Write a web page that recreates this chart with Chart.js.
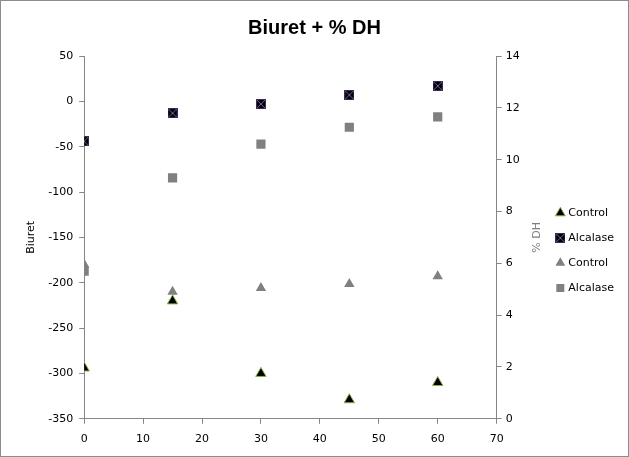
<!DOCTYPE html>
<html>
<head>
<meta charset="utf-8">
<script src="https://cdn.jsdelivr.net/npm/chart.js@4"></script>
<style>
  body { margin: 0; background: #fff; }
  #wrap { width: 629px; height: 457px; }
</style>
</head>
<body>
<div id="wrap"><canvas id="biuretChart" width="629" height="457"></canvas></div>
<script>
// time points (x)
const times = [0, 15, 30, 45, 60];

// Biuret (left axis)
const biuretControl = [-294, -220, -300, -329, -310];
const biuretAlcalase = [-44, -13, -3, 7, 17];

// % DH (right axis)
const dhControl = [5.95, 4.9, 5.05, 5.2, 5.5];
const dhAlcalase = [5.7, 9.3, 10.6, 11.25, 11.65];

const seriesNames = ['Control', 'Alcalase', 'Control', 'Alcalase'];

function toPoints(ys) {
  return times.map((t, i) => ({ x: t, y: ys[i] }));
}

// black square with purple X marker
function crossSquare() {
  const c = document.createElement('canvas');
  c.width = 10; c.height = 10;
  const g = c.getContext('2d');
  g.fillStyle = '#000';
  g.fillRect(0, 0, 10, 10);
  g.strokeStyle = '#7a5ea0';
  g.lineWidth = 1;
  g.beginPath();
  g.moveTo(0.5, 0.5); g.lineTo(9.5, 9.5);
  g.moveTo(9.5, 0.5); g.lineTo(0.5, 9.5);
  g.stroke();
  g.strokeStyle = '#3a2a55';
  g.strokeRect(0.5, 0.5, 9, 9);
  return c;
}

// outer frame + right axis title reading bottom-to-top
const extras = {
  id: 'extras',
  afterLayout(chart) {
    // nudge the legend to where the original has it
    chart.legend.top += 21;
    chart.legend.bottom += 21;
    chart.legend.left -= 5;
    chart.legend.right -= 5;
  },
  afterDraw(chart) {
    const g = chart.ctx;
    g.save();
    g.strokeStyle = '#8c8c8c';
    g.lineWidth = 1;
    g.strokeRect(0.5, 0.5, chart.width - 1, chart.height - 1);
    const a = chart.chartArea;
    g.translate(a.right + 41, (a.top + a.bottom) / 2);
    g.rotate(-Math.PI / 2);
    g.fillStyle = '#808080';
    g.font = '11px "DejaVu Sans"';
    g.textAlign = 'center';
    g.textBaseline = 'middle';
    g.fillText('% DH', 0, 0);
    g.restore();
  }
};

const tickFont = { family: 'DejaVu Sans', size: 11 };

const ctx = document.getElementById('biuretChart').getContext('2d');
new Chart(ctx, {
  type: 'scatter',
  data: {
    datasets: [
      {
        label: seriesNames[0],
        data: toPoints(biuretControl),
        yAxisID: 'y',
        pointStyle: 'triangle',
        pointRadius: 6,
        backgroundColor: '#000',
        borderColor: '#8db04a',
        borderWidth: 1
      },
      {
        label: seriesNames[1],
        data: toPoints(biuretAlcalase),
        yAxisID: 'y',
        pointStyle: crossSquare(),
        backgroundColor: '#000',
        borderColor: '#000'
      },
      {
        label: seriesNames[2],
        data: toPoints(dhControl),
        yAxisID: 'y1',
        pointStyle: 'triangle',
        pointRadius: 6,
        backgroundColor: '#808080',
        borderColor: '#808080',
        borderWidth: 0
      },
      {
        label: seriesNames[3],
        data: toPoints(dhAlcalase),
        yAxisID: 'y1',
        pointStyle: 'rect',
        pointRadius: 6.5,
        backgroundColor: '#808080',
        borderColor: '#808080',
        borderWidth: 0
      }
    ]
  },
  options: {
    responsive: false,
    animation: false,
    layout: { padding: { left: 0, right: 0, top: 4, bottom: 2 } },
    plugins: {
      title: {
        display: true,
        text: 'Biuret + % DH',
        color: '#000',
        font: { family: 'Liberation Sans', size: 20, weight: 'bold' },
        padding: { top: 12, bottom: 16 }
      },
      legend: {
        position: 'right',
        labels: {
          usePointStyle: true,
          color: '#000',
          font: { family: 'DejaVu Sans', size: 11 },
          padding: 14,
          boxWidth: 5,
          boxHeight: 8
        }
      },
      tooltip: { enabled: false }
    },
    scales: {
      x: {
        type: 'linear',
        min: 0,
        max: 70,
        ticks: { stepSize: 10, color: '#000', font: tickFont, padding: 9 },
        grid: { drawOnChartArea: false, drawTicks: true, tickLength: 5, color: '#868686' },
        border: { display: true, color: '#868686' }
      },
      y: {
        position: 'left',
        min: -350,
        max: 50,
        ticks: { stepSize: 50, color: '#000', font: tickFont, padding: 6 },
        grid: { drawOnChartArea: false, drawTicks: true, tickLength: 5, color: '#868686' },
        border: { display: true, color: '#868686' },
        title: { display: true, text: 'Biuret', color: '#000', font: { family: 'DejaVu Sans', size: 11 }, padding: { top: 25, bottom: 4 } }
      },
      y1: {
        position: 'right',
        min: 0,
        max: 14,
        ticks: { stepSize: 2, color: '#000', font: tickFont, padding: 4 },
        grid: { drawOnChartArea: false, drawTicks: true, tickLength: 5, color: '#868686' },
        border: { display: true, color: '#868686' },
        title: { display: true, text: '% DH', color: 'rgba(0,0,0,0)', font: { family: 'DejaVu Sans', size: 11 }, padding: { top: 5, bottom: 7 } }
      }
    }
  },
  plugins: [extras]
});
</script>
</body>
</html>
